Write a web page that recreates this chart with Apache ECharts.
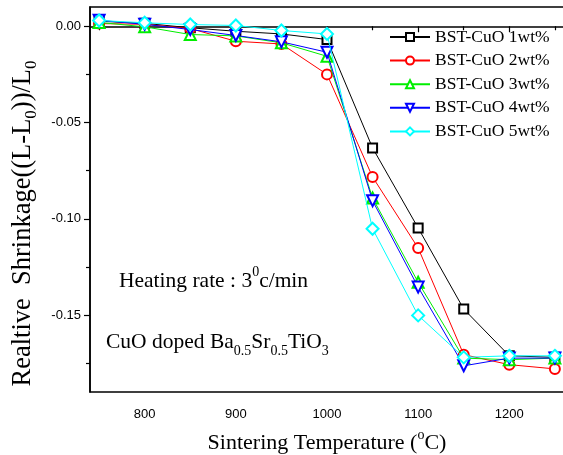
<!DOCTYPE html>
<html>
<head>
<meta charset="utf-8">
<script src="https://cdn.jsdelivr.net/npm/echarts@6/dist/echarts.min.js"></script>
<style>html,body{margin:0;padding:0;background:#fff}#c{width:563px;height:455px}</style>
</head>
<body>
<div id="c"></div>
<script>
var temps = [750, 800, 850, 900, 950, 1000, 1050, 1100, 1150, 1200, 1250];
var cuo1 = [0.0026, 0.0015, -0.0008, -0.0026, -0.0040, -0.0069, -0.0632, -0.1048, -0.1469, -0.1712, -0.1720];
var cuo2 = [0.0014, 0.0010, -0.0012, -0.0078, -0.0092, -0.0250, -0.0783, -0.1152, -0.1706, -0.1758, -0.1780];
var cuo3 = [0.0020, -0.0003, -0.0043, -0.0050, -0.0086, -0.0156, -0.0892, -0.1330, -0.1724, -0.1732, -0.1724];
var cuo4 = [0.0031, 0.0010, -0.0017, -0.0048, -0.0081, -0.0135, -0.0906, -0.1355, -0.1764, -0.1724, -0.1724];
var cuo5 = [0.0030, 0.0018, 0.0009, 0.0004, -0.0022, -0.0040, -0.1052, -0.1502, -0.1720, -0.1712, -0.1712];
var seriesNames = ['BST-CuO 1wt%', 'BST-CuO 2wt%', 'BST-CuO 3wt%', 'BST-CuO 4wt%', 'BST-CuO 5wt%'];
var xMajor = [800, 900, 1000, 1100, 1200];
var xMinor = [750, 850, 950, 1050, 1150, 1250];
var yMajor = [0, -0.05, -0.10, -0.15];
var yMinor = [-0.025, -0.075, -0.125, -0.175];

var serif = 'Liberation Serif';
var sans = 'Liberation Sans';
var colors = ['#000000', '#ff0000', '#00ee00', '#0000ff', '#00ffff'];
var symbols = ['emptyRect', 'emptyCircle', 'emptyTriangle', 'emptyTriangle', 'emptyDiamond'];
var symRot = [0, 0, 0, 180, 0];
var symSize = [9, 10, 11, 11, 12];
var allData = [cuo1, cuo2, cuo3, cuo4, cuo5];

function pairs(arr) { return temps.map(function (t, i) { return [t, arr[i]]; }); }

var series = allData.map(function (d, i) {
  return {
    name: seriesNames[i], type: 'line', data: pairs(d),
    symbol: symbols[i], symbolRotate: symRot[i], symbolSize: symSize[i],
    lineStyle: { color: colors[i], width: 1 },
    itemStyle: { color: colors[i], borderWidth: 1.2 },
    emphasis: { disabled: true }, animation: false, z: 2 + i
  };
});

function rich(sz, lh) {
  return { sub: { fontSize: sz, fontFamily: serif, verticalAlign: 'bottom', lineHeight: lh },
           sup: { fontSize: sz, fontFamily: serif, verticalAlign: 'top', lineHeight: lh } };
}

var chart = echarts.init(document.getElementById('c'));
chart.setOption({
  animation: false,
  backgroundColor: '#fff',
  grid: { left: 90, top: 7, width: 474, bottom: 63, show: true, borderColor: '#000', borderWidth: 1.5,
          containLabel: false, outerBoundsMode: 'none' },
  legend: {
    orient: 'vertical', left: 389, top: 28, padding: 0, itemWidth: 40, itemHeight: 10, itemGap: 5.6,
    textStyle: { fontFamily: serif, fontSize: 17.5, color: '#000' },
    data: seriesNames
  },
  xAxis: [{
    type: 'value', min: 740, max: 1260,
    name: 'Sintering Temperature ({sup|o}C)', nameLocation: 'middle', nameGap: 36,
    nameTextStyle: { fontFamily: serif, fontSize: 22, color: '#000', lineHeight: 30, rich: rich(14, 30) },
    axisLine: { show: true, lineStyle: { color: '#000', width: 1.5 } },
    axisTick: { show: true, length: 6, lineStyle: { color: '#000', width: 1.2 }, customValues: xMajor },
    axisLabel: { customValues: xMajor, fontFamily: sans, fontSize: 13, color: '#000', margin: 16,
                 formatter: function (v) { return String(v); } },
    splitLine: { show: false }
  }, {
    type: 'value', min: 740, max: 1260, position: 'bottom',
    axisLine: { show: false },
    axisTick: { show: true, length: 4, lineStyle: { color: '#000', width: 1.2 }, customValues: xMinor },
    axisLabel: { show: false }, splitLine: { show: false }
  }],
  yAxis: [{
    type: 'value', min: -0.19, max: 0.01,
    name: 'Realtive  Shrinkage((L-L{sub|0}))/L{sub|0}', nameLocation: 'middle', nameGap: 41, nameRotate: 90,
    nameTextStyle: { fontFamily: serif, fontSize: 26.5, color: '#000', lineHeight: 34, padding: [0, 48, 0, 0],
                     rich: rich(17, 34) },
    axisLine: { show: true, lineStyle: { color: '#000', width: 1.5 } },
    axisTick: { show: true, length: 6, lineStyle: { color: '#000', width: 1.2 }, customValues: yMajor },
    axisLabel: { customValues: yMajor, fontFamily: sans, fontSize: 13, color: '#000', margin: 9,
                 formatter: function (v) { return v.toFixed(2); } },
    splitLine: { show: false }
  }, {
    type: 'value', min: -0.19, max: 0.01, position: 'left',
    axisLine: { show: false },
    axisTick: { show: true, length: 4, lineStyle: { color: '#000', width: 1.2 }, customValues: yMinor },
    axisLabel: { show: false }, splitLine: { show: false }
  }],
  graphic: [{
    type: 'text', left: 119, top: 265, silent: true,
    style: { text: 'Heating rate : 3{sup|0}c/min', fontFamily: serif, fontSize: 21.5, fill: '#000', lineHeight: 32,
             rich: rich(14, 32) }
  }, {
    type: 'text', left: 106, top: 326, silent: true,
    style: { text: 'CuO doped Ba{sub|0.5}Sr{sub|0.5}TiO{sub|3}', fontFamily: serif, fontSize: 21.5, fill: '#000', lineHeight: 32,
             rich: rich(14, 32) }
  }],
  series: series
});
</script>
</body>
</html>
